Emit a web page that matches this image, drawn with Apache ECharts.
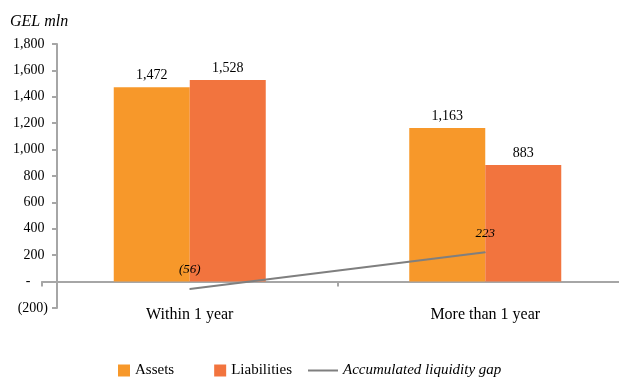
<!DOCTYPE html>
<html>
<head>
<meta charset="utf-8">
<script src="https://cdn.jsdelivr.net/npm/echarts@6/dist/echarts.min.js"></script>
<style>
  html, body { margin: 0; padding: 0; background: #fff; }
  #chart { width: 619px; height: 380px; }
</style>
</head>
<body>
<div id="chart"></div>
<script>
// Liquidity gap by maturity, GEL mln
const categories = ['Within 1 year', 'More than 1 year'];
const assets = [1472, 1163];
const liabilities = [1528, 883];
const accumulatedGap = [-56, 223];
const yTicks = { min: -200, max: 1800, step: 200 };

const SERIF = '"Liberation Serif", "Times New Roman", serif';
const AXIS_GREY = '#A6A6A6';

// Accounting-style numbers: thousands separators, negatives in brackets, zero as a dash
function fmtNumber(v) {
  if (v === 0) return '-';
  const s = Math.abs(v).toLocaleString('en-US');
  return v < 0 ? '(' + s + ')' : s;
}
function fmtAxis(v) {
  if (v === 0) return '-\u2003 ';
  return v < 0 ? fmtNumber(v) : fmtNumber(v) + ' ';
}

const chart = echarts.init(document.getElementById('chart'), null, { renderer: 'canvas' });

chart.setOption({
  animation: false,
  backgroundColor: '#ffffff',
  title: {
    text: 'GEL mln',
    left: 5,
    top: 9,
    textStyle: { fontFamily: SERIF, fontStyle: 'italic', fontWeight: 'normal', fontSize: 16, color: '#000' }
  },
  grid: { left: 42, width: 591, top: 44, bottom: 72, containLabel: false, outerBoundsMode: 'none' },
  legend: [
    {
      data: [{ name: 'Assets', icon: 'rect' }, { name: 'Liabilities', icon: 'rect' }],
      left: 113,
      bottom: -3,
      itemWidth: 12,
      itemHeight: 12,
      itemGap: 40,
      textStyle: { fontFamily: SERIF, fontSize: 15, color: '#000' }
    },
    {
      data: [{ name: 'Accumulated liquidity gap', icon: 'rect' }],
      left: 303,
      bottom: -3,
      itemWidth: 30,
      itemHeight: 2,
      textStyle: { fontFamily: SERIF, fontSize: 15, fontStyle: 'italic', color: '#000' }
    }
  ],
  xAxis: {
    type: 'category',
    data: categories,
    axisLine: { onZero: true, lineStyle: { color: AXIS_GREY, width: 2 } },
    axisTick: { show: true, length: 5, lineStyle: { color: AXIS_GREY, width: 2 } },
    axisLabel: { margin: -1, fontFamily: SERIF, fontSize: 16, color: '#000' }
  },
  yAxis: {
    type: 'value',
    min: yTicks.min,
    max: yTicks.max,
    interval: yTicks.step,
    offset: -15,
    axisLine: { show: true, lineStyle: { color: AXIS_GREY, width: 2 } },
    axisTick: { show: true, length: 5, lineStyle: { color: AXIS_GREY, width: 2 } },
    splitLine: { show: false },
    axisLabel: {
      margin: 9,
      fontFamily: SERIF,
      fontSize: 14,
      color: '#000',
      formatter: fmtAxis
    }
  },
  series: [
    {
      name: 'Assets',
      type: 'bar',
      data: assets,
      barWidth: 76,
      barGap: '0%',
      itemStyle: { color: '#F7982A' },
      label: {
        show: true,
        position: 'top',
        distance: 5,
        fontFamily: SERIF,
        fontSize: 14,
        color: '#000',
        formatter: p => fmtNumber(p.value)
      }
    },
    {
      name: 'Liabilities',
      type: 'bar',
      data: liabilities,
      barWidth: 76,
      itemStyle: { color: '#F2743E' },
      label: {
        show: true,
        position: 'top',
        distance: 5,
        fontFamily: SERIF,
        fontSize: 14,
        color: '#000',
        formatter: p => fmtNumber(p.value)
      }
    },
    {
      name: 'Accumulated liquidity gap',
      type: 'line',
      data: accumulatedGap,
      symbol: 'circle',
      symbolSize: 1,
      showSymbol: true,
      z: 5,
      lineStyle: { color: '#7F7F7F', width: 2 },
      itemStyle: { color: '#7F7F7F' },
      label: {
        show: true,
        position: 'top',
        distance: 12,
        fontFamily: SERIF,
        fontStyle: 'italic',
        fontSize: 13,
        color: '#000',
        formatter: p => fmtNumber(p.value)
      }
    }
  ]
});
</script>
</body>
</html>
